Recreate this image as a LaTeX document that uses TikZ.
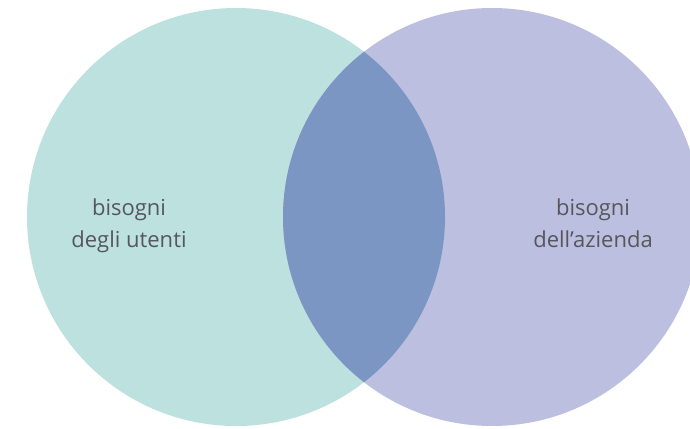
\documentclass[tikz,border=0pt]{standalone}
\usepackage{fontspec}
\setmainfont{Open Sans}
\usepackage{tikz}

\definecolor{tealpale}{HTML}{BDE1DF}
\definecolor{lavender}{HTML}{BDBFE0}
\definecolor{overlapblue}{HTML}{7B96C3}
\definecolor{textgrey}{HTML}{55575C}

\begin{document}
\begin{tikzpicture}[
  x=1pt, y=-1pt,
  set/.style = {circle, inner sep=0pt, minimum size=418pt},
  label/.style = {align=center, text=textgrey, font=\fontsize{22}{32}\selectfont}
]
\useasboundingbox (0,0) rectangle (690,428);

% the two sets
\node[set, fill=tealpale] (users) at (236,217) {};
\node[set, fill=lavender] (company) at (492,217) {};

% shared part
\begin{scope}
  \clip (236,217) circle (209);
  \fill[overlapblue] (492,217) circle (209);
\end{scope}

\node[label] (usersText) at (129,226) {bisogni\\degli utenti};
\node[label] (companyText) at (593,223) {bisogni\\dell’azienda};
\end{tikzpicture}
\end{document}
